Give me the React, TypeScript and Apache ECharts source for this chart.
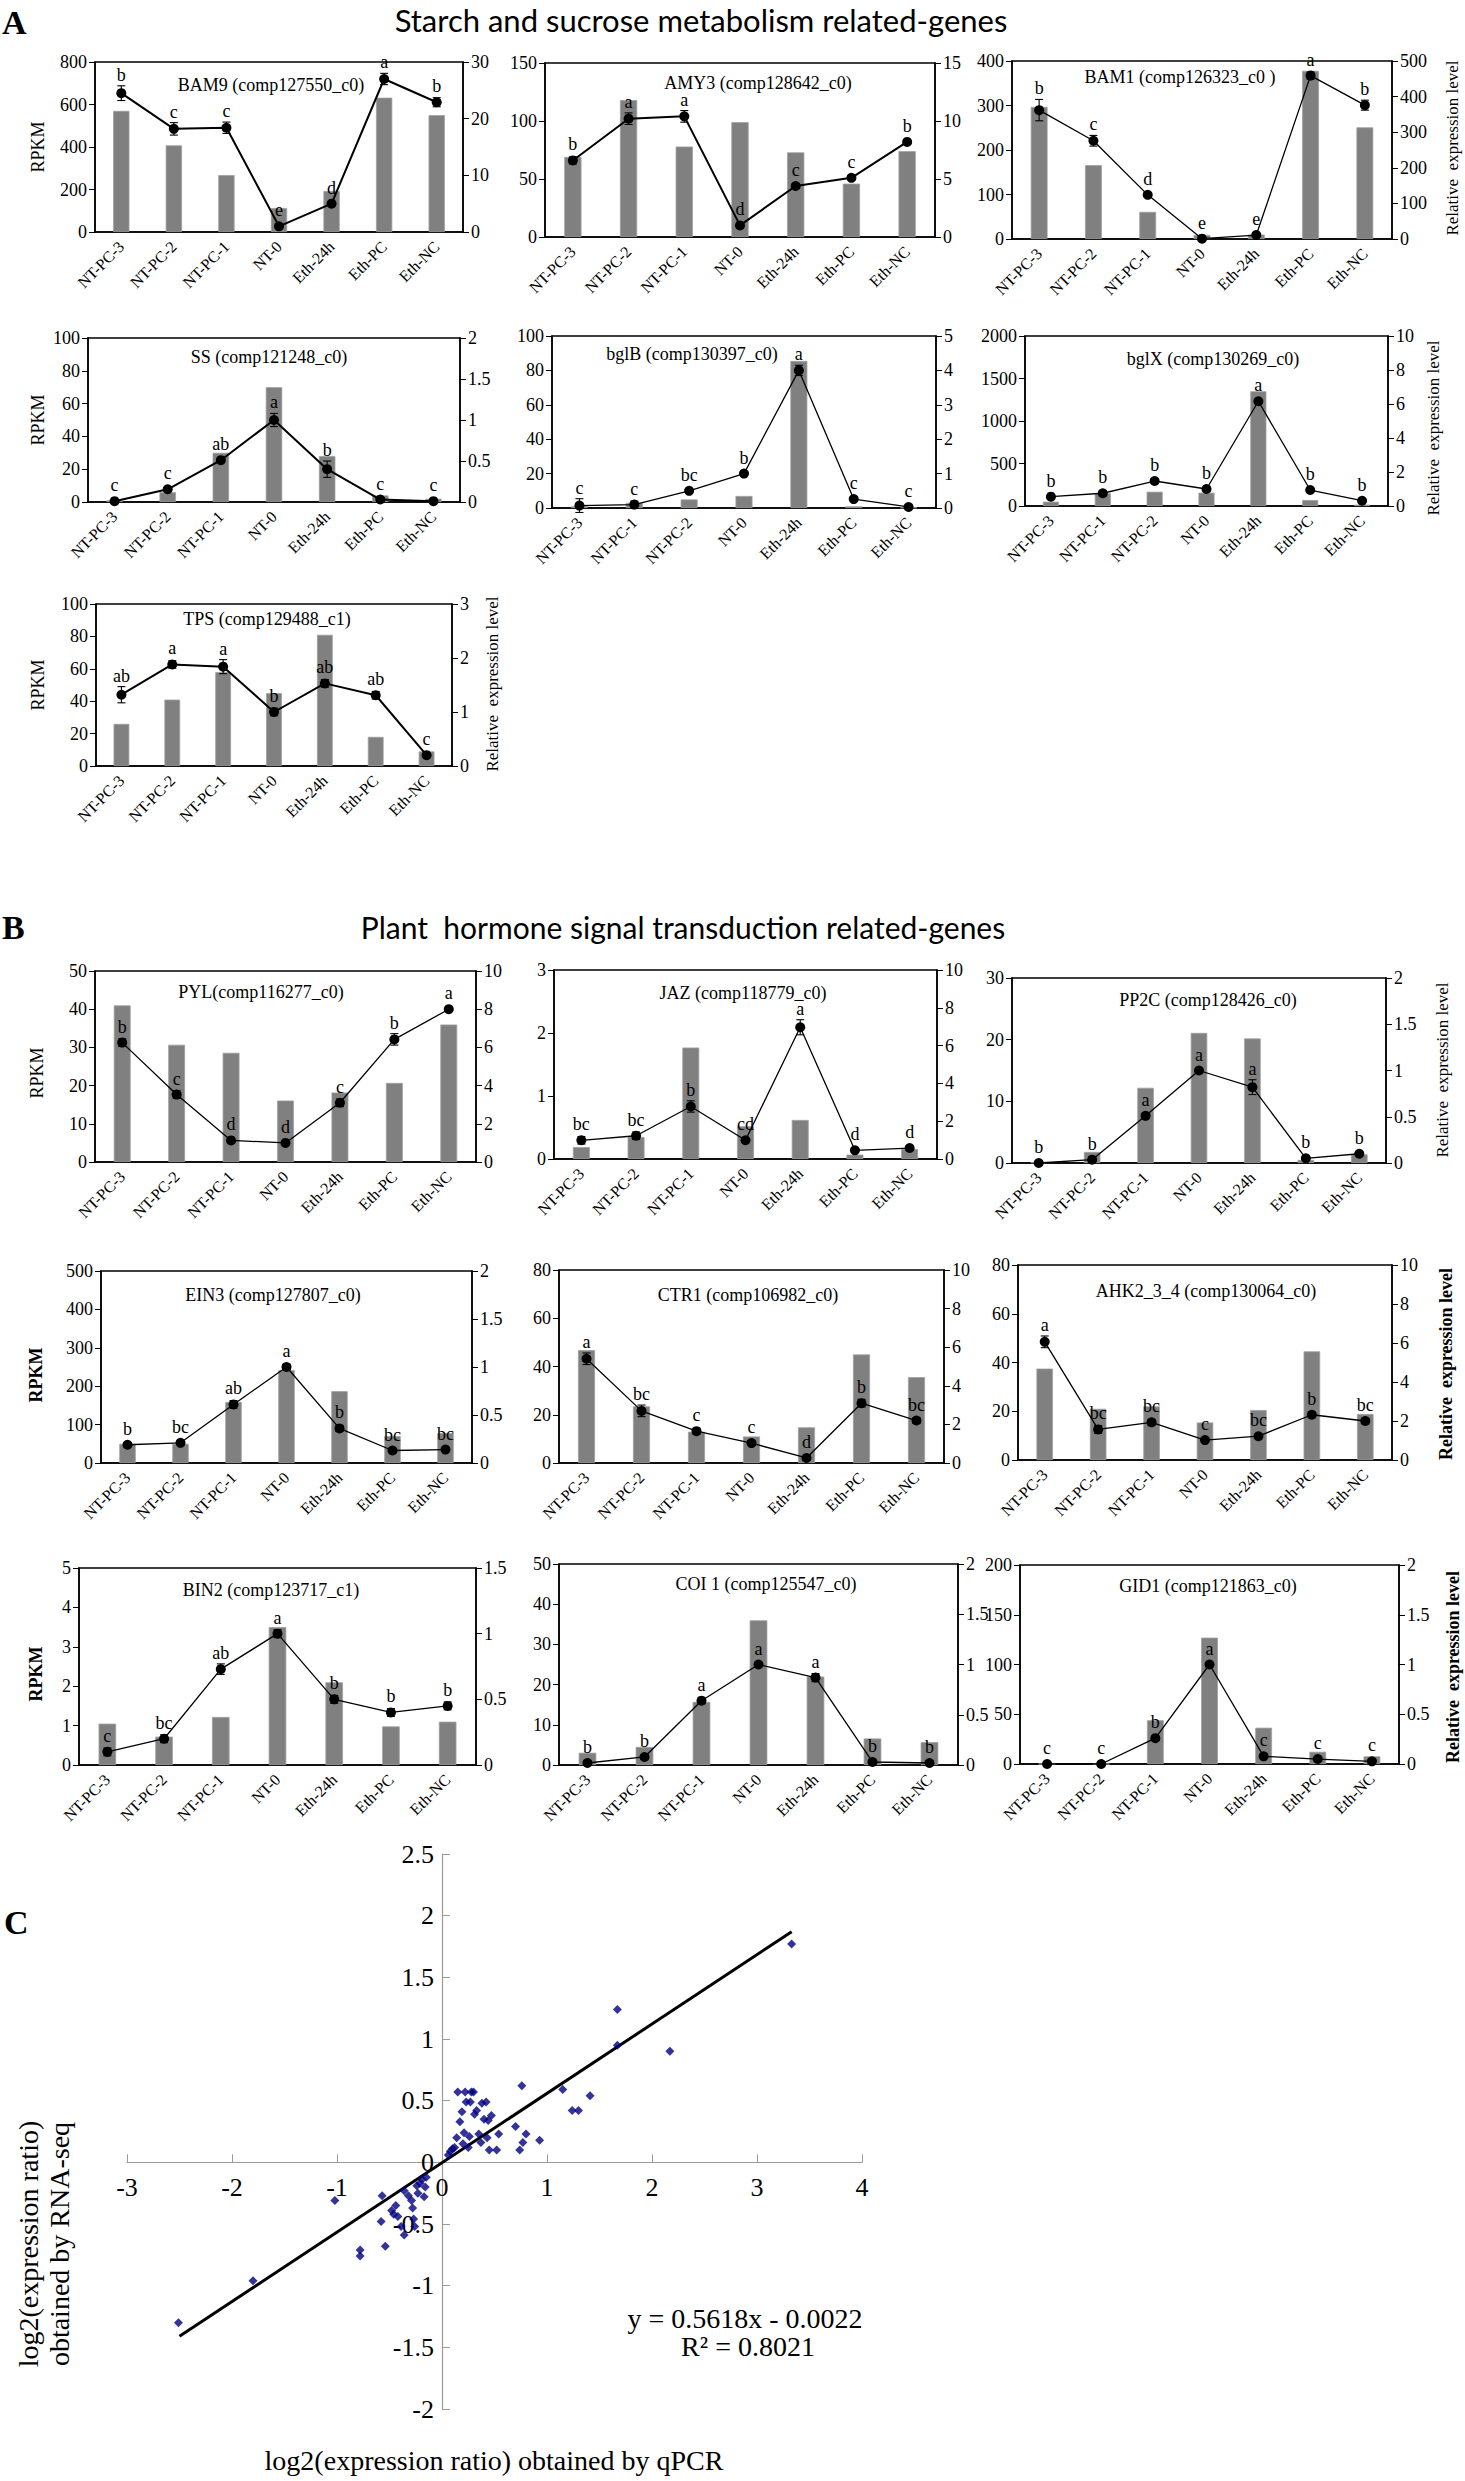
import React, { useEffect, useRef } from "react";
import * as echarts from "echarts";

// ---------- categories ----------
const CATS = ["NT-PC-3", "NT-PC-2", "NT-PC-1", "NT-0", "Eth-24h", "Eth-PC", "Eth-NC"];
const CATS_BGL = ["NT-PC-3", "NT-PC-1", "NT-PC-2", "NT-0", "Eth-24h", "Eth-PC", "Eth-NC"];

// ---------- A: starch and sucrose metabolism ----------
const bam9Bars = [570, 408, 268, 113, 193, 632, 550];
const bam9Line = [24.5, 18.2, 18.4, 1.0, 5.0, 27.0, 22.9];
const bam9Err = [1.3, 1.1, 1.0, 0.3, 0.3, 1.0, 0.8];
const bam9Letters = ["b", "c", "c", "e", "d", "a", "b"];

const amy3Bars = [69, 118, 78, 99, 73, 46, 74];
const amy3Line = [6.6, 10.2, 10.4, 1.0, 4.4, 5.1, 8.2];
const amy3Err = [0.3, 0.5, 0.5, 0.2, 0.2, 0.2, 0.2];
const amy3Letters = ["b", "a", "a", "d", "c", "c", "b"];

const bam1Bars = [297, 166, 61, 9, 10, 378, 251];
const bam1Line = [362, 276, 124, 1, 11, 459, 376];
const bam1Err = [30, 15, 5, 3, 3, 10, 14];
const bam1Letters = ["b", "c", "d", "e", "e", "a", "b"];

const ssBars = [1, 6, 30, 70, 28, 4, 2];
const ssLine = [0.01, 0.155, 0.51, 1.0, 0.4, 0.03, 0.01];
const ssErr = [0.02, 0.02, 0.03, 0.08, 0.1, 0.02, 0.02];
const ssLetters = ["c", "c", "ab", "a", "b", "c", "c"];

const bglBBars = [1, 3, 5, 7, 85.5, 1, 0.3];
const bglBLine = [0.07, 0.1, 0.5, 1.0, 4.0, 0.26, 0.03];
const bglBErr = [0.2, 0.1, 0.05, 0.05, 0.15, 0.05, 0.02];
const bglBLetters = ["c", "c", "bc", "b", "a", "c", "c"];

const bglXBars = [51, 150, 168, 157, 1350, 70, 16];
const bglXLine = [0.55, 0.75, 1.47, 1.0, 6.16, 0.94, 0.31];
const bglXErr = [0.1, 0.15, 0.15, 0.05, 0.1, 0.05, 0.05];
const bglXLetters = ["b", "b", "b", "b", "a", "b", "b"];

const tpsBars = [26, 41, 58, 45, 81, 18, 9];
const tpsLine = [1.32, 1.88, 1.84, 1.0, 1.53, 1.31, 0.2];
const tpsErr = [0.15, 0.07, 0.13, 0.07, 0.07, 0.07, 0.03];
const tpsLetters = ["ab", "a", "a", "b", "ab", "ab", "c"];

// ---------- B: plant hormone signal transduction ----------
const pylBars = [41, 30.7, 28.6, 16.1, 18.2, 20.7, 36];
const pylLine = [6.25, 3.53, 1.13, 1.0, 3.1, 6.42, 8.0];
const pylErr = [0.2, 0.2, 0.1, 0.1, 0.2, 0.3, 0.1];
const pylLetters = ["b", "c", "d", "d", "c", "b", "a"];

const jazBars = [0.19, 0.35, 1.77, 0.52, 0.62, 0.07, 0.16];
const jazLine = [0.99, 1.23, 2.78, 0.99, 6.97, 0.46, 0.58];
const jazErr = [0.2, 0.2, 0.3, 0.1, 0.4, 0.1, 0.1];
const jazLetters = ["bc", "bc", "b", "cd", "a", "d", "d"];

const pp2cBars = [0.1, 1.8, 12.2, 21.1, 20.2, 0.5, 1.4];
const pp2cLine = [0.0, 0.036, 0.51, 1.0, 0.82, 0.05, 0.1];
const pp2cErr = [0.01, 0.02, 0.03, 0.02, 0.08, 0.01, 0.01];
const pp2cLetters = ["b", "b", "a", "a", "a", "b", "b"];

const ein3Bars = [50, 50, 159, 242, 187, 70, 78];
const ein3Line = [0.19, 0.21, 0.61, 1.0, 0.36, 0.13, 0.14];
const ein3Err = [0.02, 0.02, 0.04, 0.03, 0.03, 0.02, 0.02];
const ein3Letters = ["b", "bc", "ab", "a", "b", "bc", "bc"];

const ctr1Bars = [46.8, 23.5, 13, 11, 14.8, 45, 35.6];
const ctr1Line = [5.4, 2.7, 1.65, 1.03, 0.26, 3.1, 2.2];
const ctr1Err = [0.3, 0.3, 0.15, 0.1, 0.1, 0.2, 0.15];
const ctr1Letters = ["a", "bc", "c", "c", "d", "b", "bc"];

const ahkBars = [37.5, 21, 22, 15.4, 20.5, 44.6, 18.9];
const ahkLine = [6.06, 1.57, 1.93, 1.02, 1.22, 2.32, 2.0];
const ahkErr = [0.3, 0.2, 0.15, 0.1, 0.1, 0.15, 0.15];
const ahkLetters = ["a", "bc", "bc", "c", "bc", "b", "bc"];

const bin2Bars = [1.05, 0.72, 1.22, 3.5, 2.1, 0.98, 1.1];
const bin2Line = [0.1, 0.2, 0.73, 1.0, 0.5, 0.4, 0.45];
const bin2Err = [0.03, 0.03, 0.04, 0.03, 0.03, 0.03, 0.03];
const bin2Letters = ["c", "bc", "ab", "a", "b", "b", "b"];

const coi1Bars = [3.05, 4.5, 15.7, 36, 22, 6.6, 5.7];
const coi1Line = [0.02, 0.08, 0.64, 1.0, 0.87, 0.03, 0.02];
const coi1Err = [0.02, 0.02, 0.03, 0.02, 0.04, 0.02, 0.02];
const coi1Letters = ["b", "b", "a", "a", "a", "b", "b"];

const gid1Bars = [0, 0, 44, 127, 36.5, 12.3, 7.7];
const gid1Line = [0, 0, 0.26, 1.0, 0.077, 0.05, 0.027];
const gid1Err = [0.01, 0.01, 0.02, 0.02, 0.02, 0.01, 0.01];
const gid1Letters = ["c", "c", "b", "a", "c", "c", "c"];

// ---------- C: qPCR vs RNA-seq ----------
const qpcrX = [
  -2.51, -1.8, -1.02, -0.78, -0.78, -0.57, -0.58, -0.54, -0.48, -0.46, -0.44, -0.42, -0.39, -0.36, -0.36,
  -0.32, -0.29, -0.28, -0.27, -0.26, -0.24, -0.23, -0.21, -0.19, -0.17, -0.16, -0.15,
  0.06, 0.08, 0.1, 0.12, 0.14, 0.15, 0.17, 0.19, 0.2, 0.21, 0.22, 0.23, 0.25, 0.26, 0.27, 0.28, 0.3, 0.31,
  0.33, 0.35, 0.37, 0.38, 0.4, 0.42, 0.43, 0.44, 0.45, 0.47, 0.52, 0.54, 0.7, 0.74, 0.76, 0.77, 0.8, 0.93,
  1.15, 1.24, 1.3, 1.41, 1.67, 1.67, 2.17, 3.33,
];
const rnaseqY = [
  -1.3, -0.96, -0.31, -0.71, -0.76, -0.27, -0.48, -0.68, -0.39, -0.42, -0.35, -0.44, -0.52, -0.59, -0.23,
  -0.27, -0.31, -0.37, -0.46, -0.52, -0.19, -0.25, -0.17, -0.14, -0.28, -0.2, -0.12,
  0.06, 0.09, 0.11, 0.12, 0.2, 0.57, 0.33, 0.41, 0.15, 0.24, 0.57, 0.49, 0.12, 0.21, 0.49, 0.57, 0.57, 0.39,
  0.42, 0.23, 0.16, 0.48, 0.35, 0.49, 0.2, 0.34, 0.1, 0.38, 0.1, 0.23, 0.29, 0.1, 0.62, 0.16, 0.23, 0.18,
  0.59, 0.42, 0.42, 0.54, 1.24, 0.95, 0.9, 1.77,
];
const trendX = [-2.5, 3.33];
const trendY = [-1.41, 1.87];
const scatterXTicks = { min: -3, max: 4, interval: 1 };
const scatterYTicks = { min: -2, max: 2.5, interval: 0.5 };

const SERIF = '"Liberation Serif", "DejaVu Serif", serif';

type Panel = {
  title: string;
  cats: string[];
  bars: number[];
  line: number[];
  err: number[];
  letters: string[];
  lMax: number;
  lInt: number;
  rMax: number;
  rInt: number;
  box: [number, number, number, number];
  tx: number;
  ty: number;
  lw: number;
};

const panels: Panel[] = [
  { title: "BAM9 (comp127550_c0)", cats: CATS, bars: bam9Bars, line: bam9Line, err: bam9Err, letters: bam9Letters, lMax: 800, lInt: 200, rMax: 30, rInt: 10, box: [95, 62, 463, 232], tx: 271, ty: 85, lw: 2 },
  { title: "AMY3 (comp128642_c0)", cats: CATS, bars: amy3Bars, line: amy3Line, err: amy3Err, letters: amy3Letters, lMax: 150, lInt: 50, rMax: 15, rInt: 5, box: [545, 63, 935, 237], tx: 758, ty: 83, lw: 2 },
  { title: "BAM1 (comp126323_c0 )", cats: CATS, bars: bam1Bars, line: bam1Line, err: bam1Err, letters: bam1Letters, lMax: 400, lInt: 100, rMax: 500, rInt: 100, box: [1012, 61, 1392, 239], tx: 1180, ty: 77, lw: 1.3 },
  { title: "SS (comp121248_c0)", cats: CATS, bars: ssBars, line: ssLine, err: ssErr, letters: ssLetters, lMax: 100, lInt: 20, rMax: 2, rInt: 0.5, box: [88, 338, 460, 502], tx: 269, ty: 357, lw: 2 },
  { title: "bglB (comp130397_c0)", cats: CATS_BGL, bars: bglBBars, line: bglBLine, err: bglBErr, letters: bglBLetters, lMax: 100, lInt: 20, rMax: 5, rInt: 1, box: [552, 336, 936, 508], tx: 692, ty: 354, lw: 1.3 },
  { title: "bglX (comp130269_c0)", cats: CATS_BGL, bars: bglXBars, line: bglXLine, err: bglXErr, letters: bglXLetters, lMax: 2000, lInt: 500, rMax: 10, rInt: 2, box: [1025, 336, 1388, 506], tx: 1213, ty: 359, lw: 1.3 },
  { title: "TPS (comp129488_c1)", cats: CATS, bars: tpsBars, line: tpsLine, err: tpsErr, letters: tpsLetters, lMax: 100, lInt: 20, rMax: 3, rInt: 1, box: [96, 604, 452, 766], tx: 267, ty: 619, lw: 2 },
  { title: "PYL(comp116277_c0)", cats: CATS, bars: pylBars, line: pylLine, err: pylErr, letters: pylLetters, lMax: 50, lInt: 10, rMax: 10, rInt: 2, box: [95, 971, 476, 1162], tx: 261, ty: 992, lw: 1.3 },
  { title: "JAZ (comp118779_c0)", cats: CATS, bars: jazBars, line: jazLine, err: jazErr, letters: jazLetters, lMax: 3, lInt: 1, rMax: 10, rInt: 2, box: [554, 970, 937, 1159], tx: 743, ty: 993, lw: 1.3 },
  { title: "PP2C (comp128426_c0)", cats: CATS, bars: pp2cBars, line: pp2cLine, err: pp2cErr, letters: pp2cLetters, lMax: 30, lInt: 10, rMax: 2, rInt: 0.5, box: [1012, 978, 1386, 1163], tx: 1208, ty: 1000, lw: 1.3 },
  { title: "EIN3 (comp127807_c0)", cats: CATS, bars: ein3Bars, line: ein3Line, err: ein3Err, letters: ein3Letters, lMax: 500, lInt: 100, rMax: 2, rInt: 0.5, box: [101, 1271, 472, 1463], tx: 273, ty: 1295, lw: 1.3 },
  { title: "CTR1 (comp106982_c0)", cats: CATS, bars: ctr1Bars, line: ctr1Line, err: ctr1Err, letters: ctr1Letters, lMax: 80, lInt: 20, rMax: 10, rInt: 2, box: [559, 1270, 944, 1463], tx: 748, ty: 1295, lw: 1.3 },
  { title: "AHK2_3_4 (comp130064_c0)", cats: CATS, bars: ahkBars, line: ahkLine, err: ahkErr, letters: ahkLetters, lMax: 80, lInt: 20, rMax: 10, rInt: 2, box: [1018, 1265, 1392, 1460], tx: 1206, ty: 1291, lw: 1.3 },
  { title: "BIN2 (comp123717_c1)", cats: CATS, bars: bin2Bars, line: bin2Line, err: bin2Err, letters: bin2Letters, lMax: 5, lInt: 1, rMax: 1.5, rInt: 0.5, box: [79, 1568, 476, 1765], tx: 271, ty: 1590, lw: 1.3 },
  { title: "COI 1 (comp125547_c0)", cats: CATS, bars: coi1Bars, line: coi1Line, err: coi1Err, letters: coi1Letters, lMax: 50, lInt: 10, rMax: 2, rInt: 0.5, box: [559, 1564, 958, 1765], tx: 766, ty: 1584, lw: 1.3 },
  { title: "GID1 (comp121863_c0)", cats: CATS, bars: gid1Bars, line: gid1Line, err: gid1Err, letters: gid1Letters, lMax: 200, lInt: 50, rMax: 2, rInt: 0.5, box: [1020, 1565, 1399, 1764], tx: 1208, ty: 1586, lw: 1.3 },
];

// [x, y, bold]
const rpkmLabels: [number, number, boolean][] = [
  [38, 147, false], [38, 420, false], [38, 685, false], [37, 1073, false], [36, 1375, true], [36, 1674, true],
];
const relLabels: [number, number, boolean][] = [
  [1452, 148, false], [1433, 428, false], [492, 684, false], [1442, 1070, false], [1446, 1364, true], [1453, 1667, true],
];

function buildOption() {
  const grids: any[] = [];
  const xAxes: any[] = [];
  const yAxes: any[] = [];
  const series: any[] = [];
  const graphics: any[] = [];

  const axisLabelBase = { color: "#000", fontFamily: SERIF, fontSize: 18 };

  panels.forEach((p, i) => {
    const [l, t, r, b] = p.box;
    grids.push({
      left: l, top: t, width: r - l, height: b - t,
      show: true, borderColor: "#000", borderWidth: 1.5, backgroundColor: "transparent",
    });
    xAxes.push({
      type: "category", gridIndex: i, data: p.cats,
      axisLine: { lineStyle: { color: "#000", width: 1.5 } },
      axisTick: { show: false },
      axisLabel: { ...axisLabelBase, fontSize: 16, rotate: 45, interval: 0, margin: 12 },
    });
    const yCommon = {
      type: "value", gridIndex: i, min: 0,
      splitLine: { show: false },
      axisLine: { show: true, lineStyle: { color: "#000", width: 1.5 } },
      axisTick: { show: true, inside: false, length: 6, lineStyle: { color: "#000" } },
      axisLabel: { ...axisLabelBase, margin: 8, formatter: (v: number) => String(v) },
    };
    yAxes.push({ ...yCommon, position: "left", max: p.lMax, interval: p.lInt });
    yAxes.push({ ...yCommon, position: "right", max: p.rMax, interval: p.rInt });

    series.push({
      type: "bar", xAxisIndex: i, yAxisIndex: 2 * i, data: p.bars, barWidth: "31%",
      itemStyle: { color: "#808080", borderColor: "#a0a0a0", borderWidth: 0.8 }, z: 2,
    });
    series.push({
      type: "line", xAxisIndex: i, yAxisIndex: 2 * i + 1, data: p.line,
      symbol: "circle", symbolSize: 10,
      itemStyle: { color: "#000" }, lineStyle: { color: "#000", width: p.lw }, z: 3,
    });
    const letters = p.letters;
    series.push({
      type: "custom", xAxisIndex: i, yAxisIndex: 2 * i + 1,
      data: p.line.map((v, j) => [j, v - p.err[j], v + p.err[j], v]),
      z: 4,
      renderItem: (params: any, api: any) => {
        const j = api.value(0);
        const lo = api.coord([j, api.value(1)]);
        const hi = api.coord([j, api.value(2)]);
        const mid = api.coord([j, api.value(3)]);
        const cap = 4;
        const st = { stroke: "#000", lineWidth: 1.1 };
        const top = Math.min(hi[1], mid[1] - 5);
        return {
          type: "group",
          children: [
            { type: "line", shape: { x1: lo[0], y1: lo[1], x2: hi[0], y2: hi[1] }, style: st },
            { type: "line", shape: { x1: hi[0] - cap, y1: hi[1], x2: hi[0] + cap, y2: hi[1] }, style: st },
            { type: "line", shape: { x1: lo[0] - cap, y1: lo[1], x2: lo[0] + cap, y2: lo[1] }, style: st },
            {
              type: "text", x: hi[0], y: top - 2,
              style: {
                text: letters[params.dataIndex], fill: "#000", font: `18px ${SERIF}`,
                textAlign: "center", textVerticalAlign: "bottom", align: "center", verticalAlign: "bottom",
              },
            },
          ],
        };
      },
    });

    graphics.push({
      type: "text", x: p.tx, y: p.ty,
      style: { text: p.title, fill: "#000", font: `18px ${SERIF}`, textAlign: "center", textVerticalAlign: "middle", align: "center", verticalAlign: "middle" },
    });
  });

  rpkmLabels.forEach(([x, y, bold]) => {
    graphics.push({
      type: "text", x, y, rotation: Math.PI / 2,
      style: { text: "RPKM", fill: "#000", font: `${bold ? "bold " : ""}18px ${SERIF}`, textAlign: "center", textVerticalAlign: "middle", align: "center", verticalAlign: "middle" },
    });
  });
  relLabels.forEach(([x, y, bold]) => {
    graphics.push({
      type: "text", x, y, rotation: Math.PI / 2,
      style: { text: "Relative  expression level", fill: "#000", font: `${bold ? "bold 18px" : "17px"} ${SERIF}`, textAlign: "center", textVerticalAlign: "middle", align: "center", verticalAlign: "middle" },
    });
  });

  // section headings
  const head = (text: string, x: number, y: number, size: number) => ({
    type: "text", x, y,
    style: { text, fill: "#000", font: `${size}px Lato, "Open Sans", sans-serif`, textAlign: "center", textVerticalAlign: "middle", align: "center", verticalAlign: "middle" },
  });
  graphics.push(head("Starch and sucrose metabolism related-genes", 701, 20, 31));
  graphics.push(head("Plant  hormone signal transduction related-genes", 683, 927, 30));
  const letter = (text: string, x: number, y: number) => ({
    type: "text", x, y,
    style: { text, fill: "#000", font: `bold 34px ${SERIF}`, textAlign: "left", textVerticalAlign: "middle", align: "left", verticalAlign: "middle" },
  });
  graphics.push(letter("A", 2, 22));
  graphics.push(letter("B", 2, 927));
  graphics.push(letter("C", 4, 1922));

  // ---------- scatter panel C ----------
  const gi = panels.length;
  const cLeft = 127, cTop = 1854, cW = 735, cH = 555;
  const zeroX = cLeft + ((0 - scatterXTicks.min) / (scatterXTicks.max - scatterXTicks.min)) * cW;
  const zeroY = cTop + ((scatterYTicks.max - 0) / (scatterYTicks.max - scatterYTicks.min)) * cH;
  grids.push({ left: cLeft, top: cTop, width: cW, height: cH, show: false });
  const cAxisLine = { show: true, onZero: false, lineStyle: { color: "#9a9a9a", width: 1.2 } };
  xAxes.push({
    type: "value", gridIndex: gi, ...scatterXTicks,
    position: "bottom", offset: -(cTop + cH - zeroY),
    axisLine: cAxisLine,
    axisTick: { show: true, inside: true, length: 8, lineStyle: { color: "#9a9a9a" } },
    splitLine: { show: false },
    axisLabel: { color: "#000", fontFamily: SERIF, fontSize: 26, margin: 12 },
  });
  yAxes.push({
    type: "value", gridIndex: gi, ...scatterYTicks,
    position: "left", offset: -(zeroX - cLeft),
    axisLine: cAxisLine,
    axisTick: { show: true, inside: true, length: 8, lineStyle: { color: "#9a9a9a" } },
    splitLine: { show: false },
    axisLabel: { color: "#000", fontFamily: SERIF, fontSize: 26, margin: 8 },
  });
  series.push({
    type: "line", xAxisIndex: gi, yAxisIndex: 2 * gi,
    data: trendX.map((x, k) => [x, trendY[k]]),
    symbol: "none", lineStyle: { color: "#000", width: 3 }, z: 2,
  });
  series.push({
    type: "scatter", xAxisIndex: gi, yAxisIndex: 2 * gi,
    data: qpcrX.map((x, k) => [x, rnaseqY[k]]),
    symbol: "diamond", symbolSize: 9, itemStyle: { color: "#000080" }, z: 3,
  });

  const ctext = (text: string, x: number, y: number, rot = 0) => ({
    type: "text", x, y, rotation: rot,
    style: { text, fill: "#000", font: `28px ${SERIF}`, textAlign: "center", textVerticalAlign: "middle", align: "center", verticalAlign: "middle" },
  });
  graphics.push(ctext("y = 0.5618x - 0.0022", 745, 2318));
  graphics.push(ctext("R² = 0.8021", 748, 2346));
  graphics.push(ctext("log2(expression ratio) obtained by qPCR", 494, 2460));
  graphics.push(ctext("log2(expression ratio)", 28, 2244, Math.PI / 2));
  graphics.push(ctext("obtained by RNA-seq", 59, 2244, Math.PI / 2));

  return {
    animation: false,
    backgroundColor: "#fff",
    grid: grids,
    xAxis: xAxes,
    yAxis: yAxes,
    series,
    graphic: { elements: graphics },
  };
}

export default function App() {
  const ref = useRef<HTMLDivElement>(null);
  useEffect(() => {
    if (!ref.current) return;
    const chart = echarts.init(ref.current, undefined, { renderer: "svg" });
    chart.setOption(buildOption() as any);
    return () => chart.dispose();
  }, []);
  return (
    <div
      ref={ref}
      style={{ position: "absolute", left: 0, top: 0, width: 1465, height: 2481, background: "#fff" }}
    />
  );
}
